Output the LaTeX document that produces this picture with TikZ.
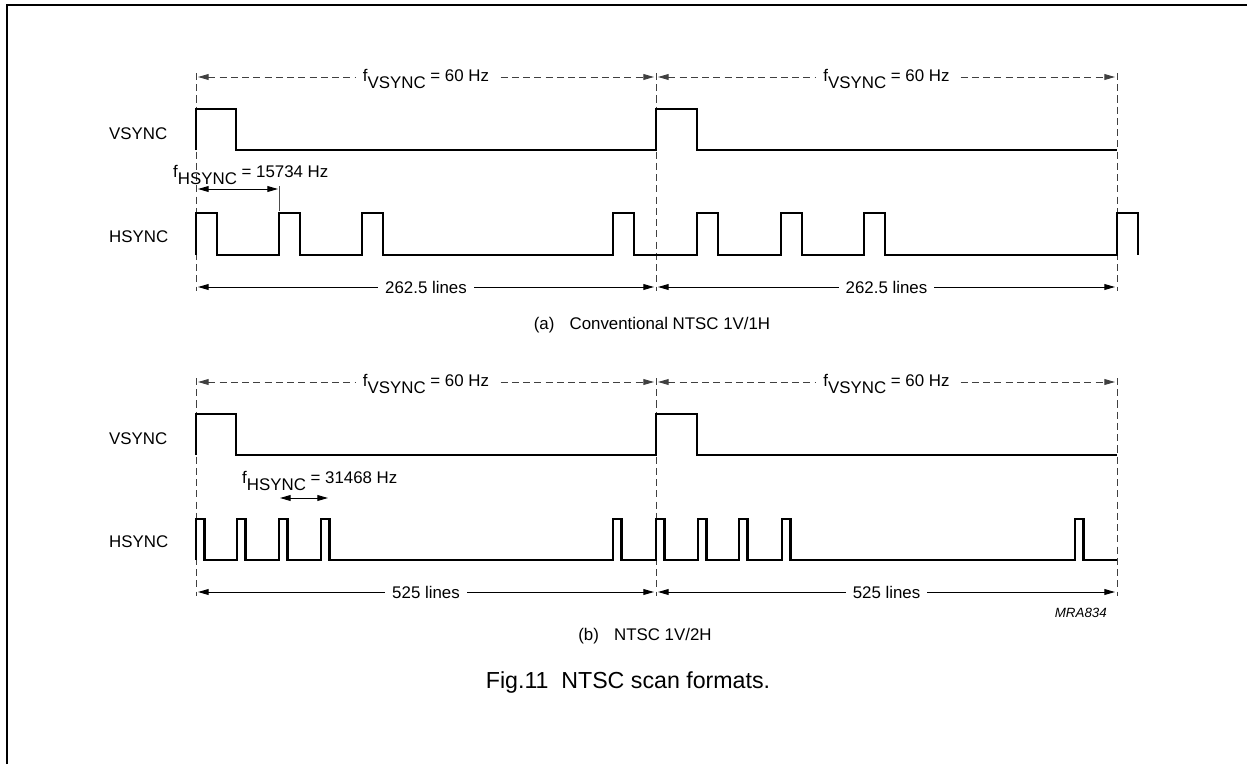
\documentclass[tikz,border=0pt]{standalone}
\usepackage{fontspec}
\setmainfont{Liberation Sans}
\usetikzlibrary{arrows.meta}
\begin{document}
\begin{tikzpicture}[x=0.02cm,y=-0.02cm,>={Triangle[length=6pt,width=3.3pt]},
		font=\fontsize{9.6}{11}\selectfont,
		sig/.style={line width=1.4pt,line join=miter},
		guide/.style={dash pattern=on 4pt off 2.4pt,line width=0.5pt,black!75},
		dim/.style={line width=0.55pt},
		lbl/.style={fill=white,inner sep=0pt,inner xsep=4pt}]
	\useasboundingbox (0,0) rectangle (1247,764);
	\draw[line width=0.9pt] (7,764)--(7,5)--(1247,5);
	% common parts of (a) and (b)
	\foreach \oy/\nl/\s in {0/262.5/a,305/525/b}{
		\foreach \xv/\n in {196/l,656/m,1117/r}
			\draw[guide] (\xv,73+\oy) coordinate (\s\n) -- (\xv,291+\oy);
		\node[anchor=west] (vlab\s) at (103,134+\oy) {VSYNC};
		\node[anchor=west] (hlab\s) at (103,237+\oy) {HSYNC};
		\draw[sig] (196,150+\oy)--(196,109+\oy)--(236,109+\oy)--(236,150+\oy)
			--(656,150+\oy)--(656,109+\oy)--(697,109+\oy)--(697,150+\oy)--(1117,150+\oy);
		\foreach \xa/\xb/\k in {198/654/1,658/1115/2}{
			\draw[guide,<->] (\xa,77+\oy)--(\xb,77+\oy);
			\node[lbl,anchor=base] (fv\s\k) at ({(\xa+\xb)/2},81+\oy)
				{f\raisebox{-0.42em}{VSYNC} = 60 Hz};
			\draw[dim,<->] (\xa,287+\oy)--(\xb,287+\oy);
			\node[lbl] (nl\s\k) at ({(\xa+\xb)/2},287+\oy) {\nl\ lines};
		}
	}
	% (a) conventional
	\draw[sig] (196,255) foreach \p in {196,279,362,613,697,781,864,1117}
		{--(\p,255)--(\p,213)--++(21,0)--++(0,42)};
	\node[anchor=base west] (fha) at (167,177) {f\raisebox{-0.42em}{HSYNC} = 15734 Hz};
	\draw[dim,<->] (198,189)--(278,189);
	\draw[dim,black!70] (279,186)--(279,211);
	\node (capa) at (652,325) {(a)\hspace{0.9em}Conventional NTSC 1V/1H};
	% (b) 1V/2H
	\draw[sig] (196,560) foreach \p in {196,237,279,321,613,656,698,739,782,1075}
		{--(\p,560)--(\p,519)--++(8.5,0)--++(0,41)} --(1117,560);
	\node[anchor=base west] (fhb) at (236,483) {f\raisebox{-0.42em}{HSYNC} = 31468 Hz};
	\draw[dim,<->] (280,498)--(328,498);
	\node[anchor=east] (code) at (1113,613) {\fontsize{7.6}{9}\selectfont\itshape MRA834};
	\node (capb) at (645,636) {(b)\hspace{0.9em}NTSC 1V/2H};
	\node (fig) at (628,682) {\fontsize{13.2}{15}\selectfont Fig.11\hspace{0.55em}NTSC scan formats.};
\end{tikzpicture}
\end{document}
